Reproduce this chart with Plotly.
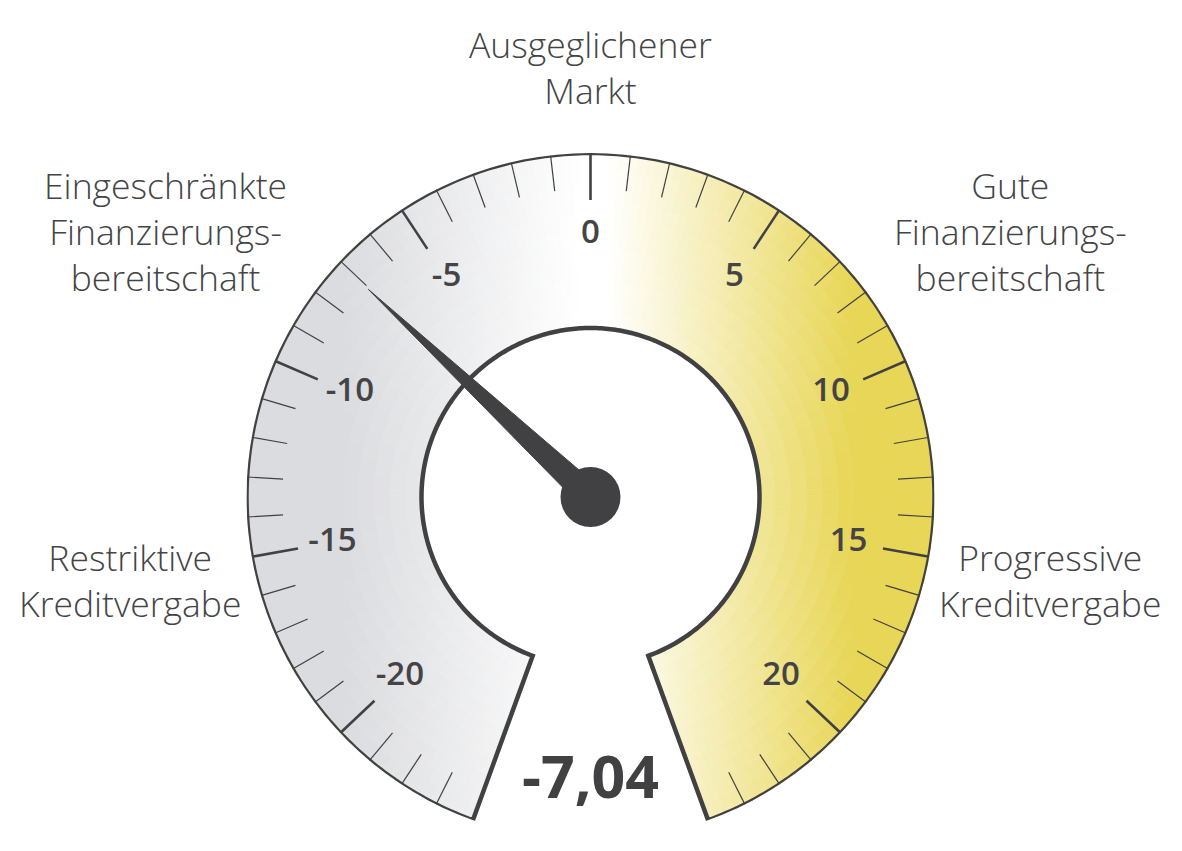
import numpy as np
import plotly.graph_objects as go

# gauge scale and reading
scale_min = -24
scale_max = 24
gauge_value = -7.04
value_label = "-7,04"

major_ticks = [-20, -15, -10, -5, 0, 5, 10, 15, 20]
major_labels = ["-20", "-15", "-10", "-5", "0", "5", "10", "15", "20"]
minor_ticks = [-23, -22, -21, -19, -18, -17, -16, -14, -13, -12, -11, -9, -8, -7, -6,
               -4, -3, -2, -1, 1, 2, 3, 4, 6, 7, 8, 9, 11, 12, 13, 14, 16, 17, 18, 19,
               21, 22, 23]

zone_texts = [
    "Ausgeglichener<br>Markt",
    "Eingeschränkte<br>Finanzierungs-<br>bereitschaft",
    "Gute<br>Finanzierungs-<br>bereitschaft",
    "Restriktive<br>Kreditvergabe",
    "Progressive<br>Kreditvergabe",
]

#Geometry (pixels, page coords); the page body adds 8px
W, H = 1182, 851
off = 8
cx, cy = 590.5 - off, 497 - off
R_out, R_in = 344, 169
sweep = 320.0
deg_per_unit = sweep / (scale_max - scale_min)

ink = "#414143"
txt_color = "#444446"
font_fam = "Open Sans"

gray = (219, 220, 223)
white = (255, 255, 255)
yellow = (232, 214, 86)
grad_stops = [(-245, gray), (-10, white), (18, white), (262, yellow)]


def ang(v):
    return v * deg_per_unit


def grad_color(dx):
    if dx <= grad_stops[0][0]:
        c = grad_stops[0][1]
    elif dx >= grad_stops[-1][0]:
        c = grad_stops[-1][1]
    else:
        for (x0, c0), (x1, c1) in zip(grad_stops[:-1], grad_stops[1:]):
            if x0 <= dx <= x1:
                t = (dx - x0) / (x1 - x0)
                c = tuple(c0[i] + (c1[i] - c0[i]) * t for i in range(3))
                break
    return "rgb(%d,%d,%d)" % tuple(round(v) for v in c)


fig = go.Figure()

#Band with horizontal gradient, built from thin polar cells
a_lo, a_hi = ang(scale_min), ang(scale_max)
step_a = 1.6
a_centers = np.arange(a_lo + step_a / 2, a_hi, step_a)
r_edges = np.linspace(R_in, R_out, 12)
th, bs, ln, cols = [], [], [], []
for r0, r1 in zip(r_edges[:-1], r_edges[1:]):
    rm = (r0 + r1) / 2
    for a in a_centers:
        th.append(a)
        bs.append(r0)
        ln.append(r1 - r0)
        cols.append(grad_color(rm * np.sin(np.radians(a))))

fig.add_trace(go.Barpolar(
    theta=th, r=ln, base=bs, width=step_a,
    marker=dict(color=cols, line=dict(color=cols, width=0.8)),
    hoverinfo="skip", showlegend=False,
))

#Outline
arc = np.linspace(a_lo, a_hi, 400)
out_th = list(arc) + list(arc[::-1]) + [arc[0]]
out_r = [R_out] * len(arc) + [R_in] * len(arc) + [R_out]
fig.add_trace(go.Scatterpolar(
    theta=out_th, r=out_r, mode="lines",
    line=dict(color=ink, width=4.5),
    hoverinfo="skip", showlegend=False,
))

#Ticks
def tick_trace(vals, length, width):
    t, r = [], []
    for v in vals:
        t += [ang(v), ang(v), None]
        r += [R_out - length, R_out, None]
    return go.Scatterpolar(theta=t, r=r, mode="lines",
                           line=dict(color=ink, width=width),
                           hoverinfo="skip", showlegend=False)


fig.add_trace(tick_trace(minor_ticks, 36, 1.2))
fig.add_trace(tick_trace(major_ticks, 47, 2.6))

fig.add_trace(go.Scatterpolar(
    theta=[ang(v) for v in major_ticks], r=[262] * len(major_ticks),
    mode="text", text=major_labels,
    textfont=dict(family=font_fam, size=33, color=txt_color, weight=600),
    hoverinfo="skip", showlegend=False,
))

#Needle + hub
na = ang(gauge_value)
fig.add_trace(go.Scatterpolar(
    theta=[na - 90, na, na + 90, na - 90], r=[13, 304, 13, 13],
    mode="lines", fill="toself", fillcolor=ink,
    line=dict(color=ink, width=1),
    hoverinfo="skip", showlegend=False,
))
fig.add_trace(go.Scatterpolar(
    theta=[0], r=[0], mode="markers",
    marker=dict(size=60, color=ink),
    hoverinfo="skip", showlegend=False,
))

#Value
fig.add_trace(go.Scatterpolar(
    theta=[180], r=[286], mode="text", text=[value_label],
    textfont=dict(family=font_fam, size=59, color=ink, weight=700),
    hoverinfo="skip", showlegend=False,
))

# zone labels (pixel centres in the reference)
zone_pos = [(590, 67), (165, 231), (1010, 231), (130, 580), (1050, 580)]
for t, (px, py) in zip(zone_texts, zone_pos):
    fig.add_annotation(
        x=(px - off) / W, y=1 - (py - off) / H, xref="paper", yref="paper",
        text=t, showarrow=False, xanchor="center", yanchor="middle",
        font=dict(family=font_fam, size=35.5, color=txt_color, weight=300),
        align="center",
    )

fig.update_layout(
    width=W, height=H,
    margin=dict(l=0, r=0, t=0, b=0),
    paper_bgcolor="white",
    plot_bgcolor="white",
    showlegend=False,
    polar=dict(
        domain=dict(x=[(cx - R_out) / W, (cx + R_out) / W],
                    y=[1 - (cy + R_out) / H, 1 - (cy - R_out) / H]),
        bgcolor="rgba(0,0,0,0)",
        bargap=0,
        radialaxis=dict(range=[0, R_out], visible=False),
        angularaxis=dict(rotation=90, direction="clockwise", visible=False),
    ),
)

fig.write_html("out.html")
